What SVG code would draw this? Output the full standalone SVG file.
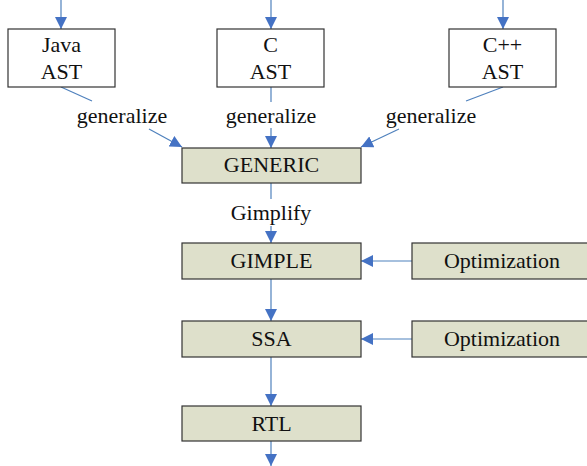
<svg xmlns="http://www.w3.org/2000/svg" width="587" height="466" viewBox="0 0 587 466">
  <style>
    .t { font-family: "Liberation Serif", "Times New Roman", serif; font-size: 22px; fill: #111; text-anchor: middle; }
    .ast { fill: #ffffff; stroke: #333; stroke-width: 1.2; }
    .stage { fill: #dee0cb; stroke: #333; stroke-width: 1.2; }
    .edge { fill: none; stroke: #4f81bd; stroke-width: 1.2; }
    .arr { marker-end: url(#head); }
  </style>
  <defs>
    <marker id="head" markerUnits="userSpaceOnUse" markerWidth="13" markerHeight="12" refX="12" refY="6" orient="auto">
      <path d="M0,0 L12,6 L0,12 z" fill="#4472c4"/>
    </marker>
  </defs>

  <g id="connectors">
    <!-- inputs to the front ends -->
    <line class="edge arr" x1="61" y1="0" x2="61" y2="29"/>
    <line class="edge arr" x1="271" y1="0" x2="271" y2="29"/>
    <line class="edge arr" x1="503" y1="0" x2="503" y2="29"/>
    <!-- generalize edges, split around their labels -->
    <line class="edge" x1="61" y1="87" x2="92" y2="101"/>
    <line class="edge arr" x1="149" y1="129" x2="182" y2="147"/>
    <line class="edge" x1="271" y1="87" x2="271" y2="102"/>
    <line class="edge arr" x1="271" y1="128" x2="271" y2="148"/>
    <line class="edge" x1="503" y1="87" x2="466" y2="101"/>
    <line class="edge arr" x1="399" y1="129" x2="361" y2="147"/>
    <!-- Gimplify -->
    <line class="edge" x1="271" y1="183" x2="271" y2="199"/>
    <line class="edge arr" x1="271" y1="226" x2="271" y2="243"/>
    <!-- pipeline -->
    <line class="edge arr" x1="271" y1="279" x2="271" y2="321"/>
    <line class="edge arr" x1="271" y1="357" x2="271" y2="406"/>
    <line class="edge arr" x1="271" y1="441" x2="271" y2="466"/>
    <!-- optimization passes -->
    <line class="edge arr" x1="412" y1="261" x2="361" y2="261"/>
    <line class="edge arr" x1="412" y1="339" x2="361" y2="339"/>
    <!-- edge labels -->
    <text class="t" x="122" y="123">generalize</text>
    <text class="t" x="271" y="123">generalize</text>
    <text class="t" x="431" y="123">generalize</text>
    <text class="t" x="271" y="220">Gimplify</text>
  </g>

  <g id="java-ast">
    <rect class="ast" x="8" y="29" width="107" height="58"/>
    <text class="t" x="61.5" y="52">Java</text>
    <text class="t" x="61.5" y="79">AST</text>
  </g>
  <g id="c-ast">
    <rect class="ast" x="217" y="29" width="107" height="58"/>
    <text class="t" x="270.5" y="52">C</text>
    <text class="t" x="270.5" y="79">AST</text>
  </g>
  <g id="cpp-ast">
    <rect class="ast" x="449" y="29" width="107" height="58"/>
    <text class="t" x="502.5" y="52">C++</text>
    <text class="t" x="502.5" y="79">AST</text>
  </g>

  <g id="generic">
    <rect class="stage" x="182" y="148" width="179" height="35"/>
    <text class="t" x="271.5" y="172">GENERIC</text>
  </g>
  <g id="gimple">
    <rect class="stage" x="182" y="243" width="179" height="36"/>
    <text class="t" x="271.5" y="268">GIMPLE</text>
  </g>
  <g id="ssa">
    <rect class="stage" x="182" y="321" width="179" height="36"/>
    <text class="t" x="271.5" y="346">SSA</text>
  </g>
  <g id="rtl">
    <rect class="stage" x="182" y="406" width="179" height="35"/>
    <text class="t" x="271.5" y="431">RTL</text>
  </g>
  <g id="opt-gimple">
    <rect class="stage" x="412" y="243" width="178" height="36"/>
    <text class="t" x="502" y="268">Optimization</text>
  </g>
  <g id="opt-ssa">
    <rect class="stage" x="412" y="321" width="178" height="36"/>
    <text class="t" x="502" y="346">Optimization</text>
  </g>
</svg>
